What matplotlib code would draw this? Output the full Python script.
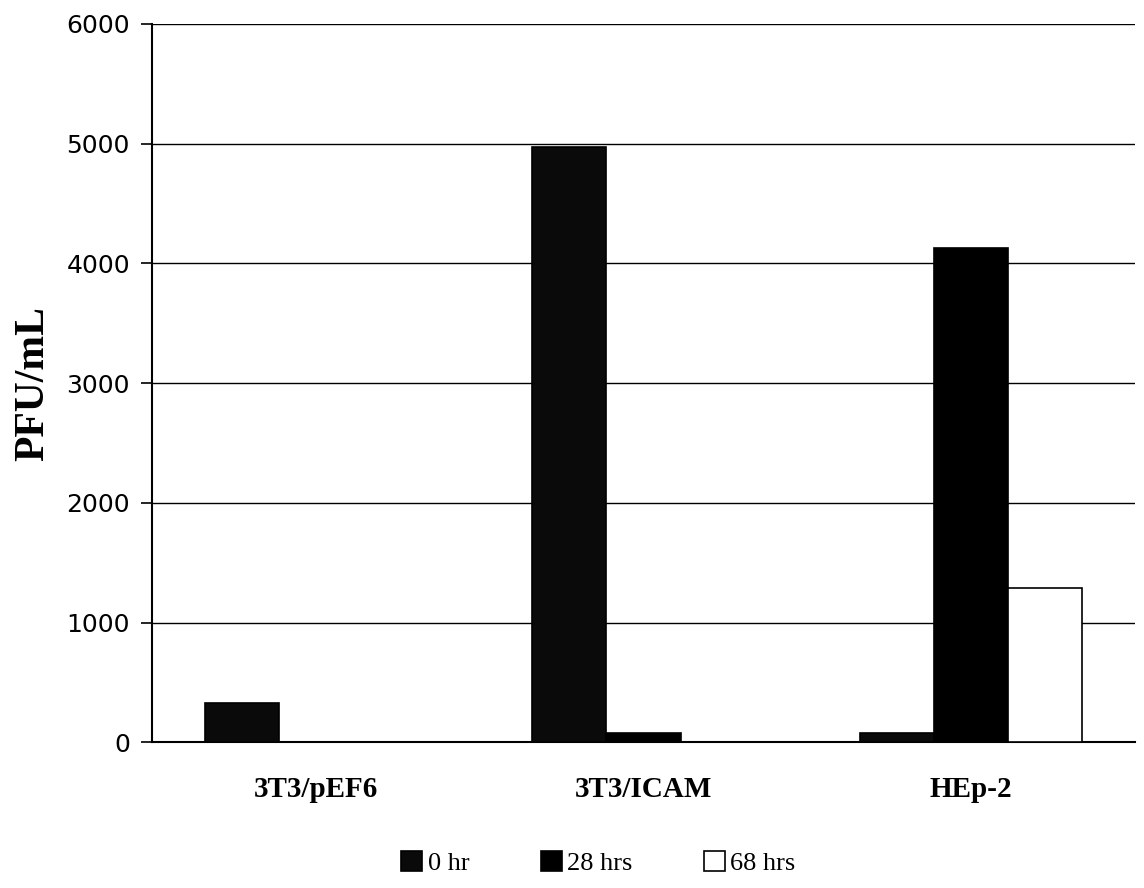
import numpy as np
import matplotlib.pyplot as plt

# data
cells = ["3T3/pEF6", "3T3/ICAM", "HEp-2"]
series = ["0 hr", "28 hrs", "68 hrs"]
pfu_0hr = [330, 4970, 75]
pfu_28hrs = [0, 75, 4130]
pfu_68hrs = [0, 0, 1290]
yticks = [0, 1000, 2000, 3000, 4000, 5000, 6000]

fig = plt.figure(figsize=(11.44, 8.88), dpi=100)
ax = fig.add_axes([0.133, 0.164, 0.859, 0.809])

x = np.arange(len(cells))
w = 0.226
colors = ["#0a0a0a", "#000000", "#ffffff"]
for i, (vals, name) in enumerate(zip([pfu_0hr, pfu_28hrs, pfu_68hrs], series)):
    ax.bar(x + (i - 1) * w, vals, w, color=colors[i], edgecolor="black",
           linewidth=1.2, label=name, zorder=3)

ax.set_xlim(-0.5, 2.5)
ax.set_ylim(0, 6000)
ax.set_yticks(yticks)
ax.set_yticklabels([str(t) for t in yticks], fontsize=18, family="DejaVu Sans")
ax.yaxis.grid(True, color="black", linewidth=1.0, zorder=0)
ax.set_axisbelow(True)

ax.set_xticks(x)
ax.set_xticklabels(cells, fontsize=21, fontweight="bold", family="Liberation Serif")
ax.tick_params(axis="x", length=0, pad=24)
ax.tick_params(axis="y", length=8, width=1.2, direction="out", pad=8)

for s in ["top", "right"]:
    ax.spines[s].set_visible(False)
ax.spines["left"].set_linewidth(1.5)
ax.spines["bottom"].set_linewidth(1.5)

ax.set_ylabel("PFU/mL", fontsize=30, fontweight="bold", family="Liberation Serif", labelpad=10)

leg = fig.legend(loc="lower center", bbox_to_anchor=(0.523, -0.012), ncol=3, frameon=False,
                 prop={"family": "Liberation Serif", "size": 19}, handlelength=0.8,
                 handleheight=0.8, handletextpad=0.2, columnspacing=2.7)
for h in leg.legend_handles:
    h.set_linewidth(1.2)

fig.savefig("out.png", dpi=100)
